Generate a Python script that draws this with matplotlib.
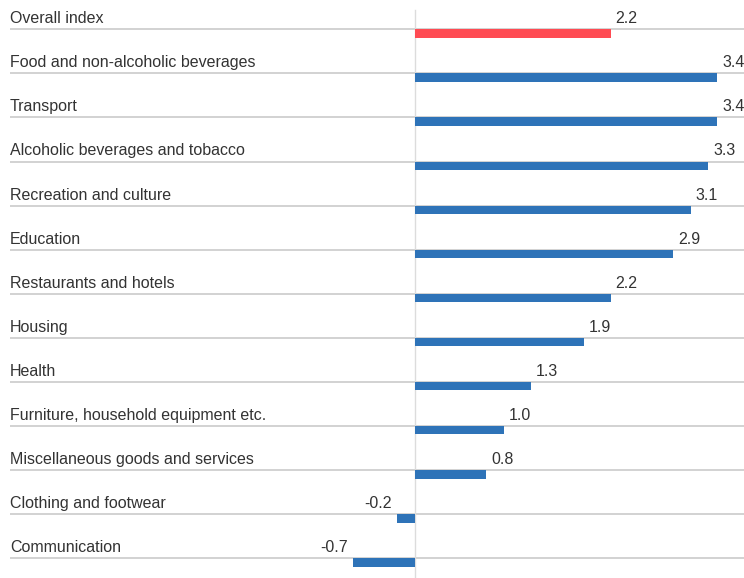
import matplotlib.pyplot as plt

categories = [
    "Overall index",
    "Food and non-alcoholic beverages",
    "Transport",
    "Alcoholic beverages and tobacco",
    "Recreation and culture",
    "Education",
    "Restaurants and hotels",
    "Housing",
    "Health",
    "Furniture, household equipment etc.",
    "Miscellaneous goods and services",
    "Clothing and footwear",
    "Communication",
]
values = [2.2, 3.4, 3.4, 3.3, 3.1, 2.9, 2.2, 1.9, 1.3, 1.0, 0.8, -0.2, -0.7]

RED = "#ff4b53"
BLUE = "#2e73b8"
TEXT = "#333333"

plt.rcParams["font.family"] = ["Liberation Sans", "DejaVu Sans"]

fig = plt.figure(figsize=(7.44, 5.78), dpi=100)
ax = fig.add_axes([0, 0, 1, 1])

# value axis: zero sits at 415 px, 88.9 px per unit
px = 1 / 88.9
ax.set_xlim(-415 * px, (744 - 415) * px)
ax.set_ylim(12.446, -0.665)
ax.axis("off")

n = len(categories)
rows = list(range(n))
colors = [RED] + [BLUE] * (n - 1)

# separator line under each label
for i in rows:
    ax.plot([-405 * px, 329 * px], [i, i], color="#cfcfcf", lw=1.3, zorder=1,
            solid_capstyle="butt")

# zero line
ax.plot([0, 0], [-0.43, 12.446], color="#dcdcdc", lw=1, zorder=1)

ax.barh(rows, values, height=0.19, align="edge", color=colors, zorder=2)

fs = 11.5
for i, (cat, v) in enumerate(zip(categories, values)):
    ax.text(-405 * px, i - 0.24, cat, ha="left", va="center", fontsize=fs,
            color=TEXT)
    if v >= 0:
        ax.text(v + 5 * px, i - 0.24, f"{v:.1f}", ha="left", va="center",
                fontsize=fs, color=TEXT)
    else:
        ax.text(v - 5 * px, i - 0.24, f"{v:.1f}", ha="right", va="center",
                fontsize=fs, color=TEXT)

fig.savefig("out.png", dpi=100)
